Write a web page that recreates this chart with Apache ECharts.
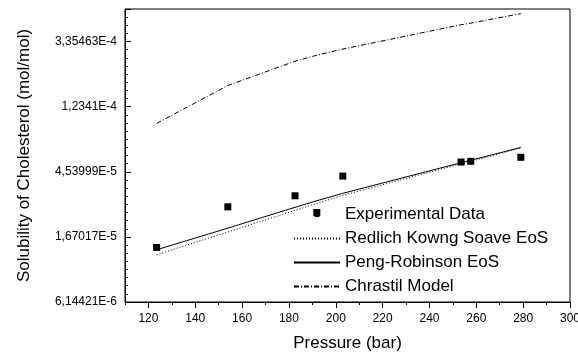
<!DOCTYPE html>
<html>
<head>
<meta charset="utf-8">
<script src="https://cdn.jsdelivr.net/npm/echarts@6/dist/echarts.min.js"></script>
<style>
html,body{margin:0;padding:0;background:#fff;}
#chart_1{width:578px;height:354px;}
</style>
</head>
<body>
<div id="chart_1"></div>
<script>
// pressure (bar)
var pressure = [123.5, 153.9, 182.6, 191.9, 203, 253.5, 257.6, 279];
// solubility (mol/mol)
var experimental = [1.42e-5, 2.65e-5, 3.14e-5, 2.43e-5, 4.25e-5, 5.27e-5, 5.33e-5, 5.67e-5];
var rksEos = [1.27e-5, 1.80e-5, 2.51e-5, 2.79e-5, 3.16e-5, 5.13e-5, 5.32e-5, 6.55e-5];
var prEos = [1.37e-5, 1.91e-5, 2.63e-5, 2.91e-5, 3.26e-5, 5.22e-5, 5.42e-5, 6.59e-5];
var chrastil = [9.54e-5, 1.708e-4, 2.48e-4, 2.72e-4, 2.99e-4, 4.34e-4, 4.45e-4, 5.15e-4];
// ticks (y axis is ln scale)
var xMajorTicks = [120, 140, 160, 180, 200, 220, 240, 260, 280, 300];
var xMinorTicks = [110, 130, 150, 170, 190, 210, 230, 250, 270, 290];
var yTickValues = [-12, -11, -10, -9, -8];
var yTickLabels = ['6,14421E-6', '1,67017E-5', '4,53999E-5', '1,2341E-4', '3,35463E-4'];

var FONT = 'Arial, "Liberation Sans", sans-serif';

function toLn(arr){
    var out = [];
    for (var i = 0; i < arr.length; i++) {
        out.push([pressure[i], Math.log(arr[i])]);
    }
    return out;
}

var option1 = {
    animation: false,
    backgroundColor: '#fff',
    textStyle: {fontFamily: FONT},
    grid: {
        left: 125, right: 8, top: 9, bottom: 52,
        outerBoundsMode: 'none',
        containLabel: false,
        show: true, borderColor: '#000', borderWidth: 1
    },
    legend: {
        orient: 'vertical',
        left: 293, top: 206,
        padding: 0,
        itemWidth: 46, itemHeight: 14, itemGap: 7,
        textStyle: {fontSize: 17, color: '#000', fontFamily: FONT},
        data: [
            {name: 'Experimental Data', icon: 'path://M0,0M20,20M6.5,6.5h7v7h-7z'},
            {name: 'Redlich Kowng Soave EoS', itemStyle: {opacity: 0}},
            {name: 'Peng-Robinson EoS', itemStyle: {opacity: 0}},
            {name: 'Chrastil Model', itemStyle: {opacity: 0}}
        ]
    },
    xAxis: [
        {
            type: 'value', min: 110, max: 300,
            name: 'Pressure (bar)', nameLocation: 'middle', nameGap: 33,
            nameTextStyle: {fontSize: 17, color: '#000'},
            axisLine: {lineStyle: {color: '#000', width: 1}},
            axisTick: {show: true, length: 6, customValues: xMajorTicks, lineStyle: {color: '#000'}},
            axisLabel: {customValues: xMajorTicks, fontSize: 12, color: '#000', margin: 11},
            splitLine: {show: false}
        },
        {
            type: 'value', min: 110, max: 300, position: 'bottom',
            axisLine: {show: false},
            axisTick: {show: true, length: 3, customValues: xMinorTicks, lineStyle: {color: '#000'}},
            axisLabel: {show: false},
            splitLine: {show: false}
        }
    ],
    yAxis: {
        type: 'value', min: -12, max: -7.5, interval: 1,
        name: 'Solubility of Cholesterol (mol/mol)', nameLocation: 'middle', nameGap: 92,
        nameTextStyle: {fontSize: 17, color: '#000'},
        axisLine: {show: true, lineStyle: {color: '#000', width: 1}},
        axisTick: {show: true, inside: true, length: 6, lineStyle: {color: '#000'}},
        minorTick: {show: true, splitNumber: 8, length: 3, lineStyle: {color: '#000'}},
        axisLabel: {
            fontSize: 12, color: '#000', margin: 8,
            formatter: function(value){
                var idx = yTickValues.indexOf(Math.round(value));
                return idx >= 0 ? yTickLabels[idx] : '';
            }
        },
        splitLine: {show: false}
    },
    series: [
        {
            name: 'Experimental Data', type: 'scatter',
            symbol: 'rect', symbolSize: 7,
            itemStyle: {color: '#000', opacity: 1},
            data: toLn(experimental)
        },
        {
            name: 'Redlich Kowng Soave EoS', type: 'line',
            symbol: 'none',
            lineStyle: {color: '#000', width: 1, type: [1, 2]},
            itemStyle: {color: '#000'},
            data: toLn(rksEos)
        },
        {
            name: 'Peng-Robinson EoS', type: 'line',
            symbol: 'none',
            lineStyle: {color: '#000', width: 1, type: 'solid'},
            itemStyle: {color: '#000'},
            data: toLn(prEos)
        },
        {
            name: 'Chrastil Model', type: 'line',
            symbol: 'none',
            lineStyle: {color: '#000', width: 1, type: [5, 2, 1, 2]},
            itemStyle: {color: '#000'},
            data: toLn(chrastil)
        }
    ]
};
var myChart1 = echarts.init(document.getElementById('chart_1'));
myChart1.setOption(option1);
</script>
</body>
</html>
